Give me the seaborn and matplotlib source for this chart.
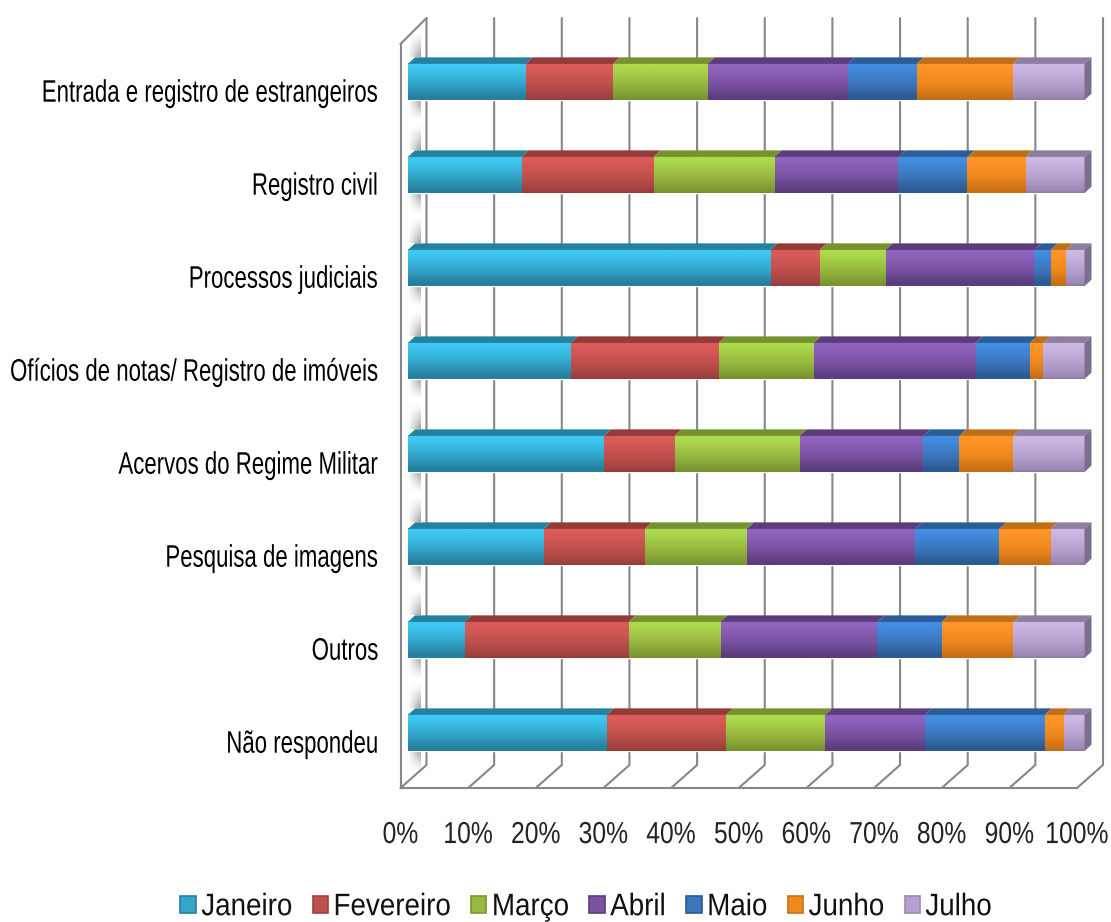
import numpy as np
import pandas as pd
import seaborn as sns
import matplotlib.pyplot as plt
from matplotlib.colors import LinearSegmentedColormap
from matplotlib.patheffects import AbstractPathEffect
from matplotlib.ticker import PercentFormatter
from matplotlib.transforms import Affine2D

categories = ["Entrada e registro de estrangeiros", "Registro civil", "Processos judiciais",
              "Ofícios de notas/ Registro de imóveis", "Acervos do Regime Militar",
              "Pesquisa de imagens", "Outros", "Não respondeu"]
months = ["Janeiro", "Fevereiro", "Março", "Abril", "Maio", "Junho", "Julho"]

janeiro = [17.4, 16.8, 53.6, 24.1, 29.0, 20.1, 8.4, 29.4]
fevereiro = [12.9, 19.5, 7.3, 21.8, 10.4, 14.9, 24.2, 17.6]
marco = [14.0, 17.9, 9.7, 14.1, 18.5, 15.1, 13.6, 14.7]
abril = [20.7, 18.3, 22.0, 23.9, 18.3, 24.9, 23.2, 14.7]
maio = [10.2, 10.2, 2.4, 8.0, 5.3, 12.4, 9.5, 17.7]
junho = [14.2, 8.6, 2.3, 2.0, 7.9, 7.6, 10.6, 2.8]
julho = [10.6, 8.7, 2.7, 6.1, 10.6, 5.0, 10.5, 3.1]
series = [janeiro, fevereiro, marco, abril, maio, junho, julho]

# top of bar, body, bottom of bar, dark facet
shades = [("#3FC8F2", "#33A6CA", "#257F9C", "#25829E"),
          ("#DA5C59", "#C0504D", "#A04240", "#943A39"),
          ("#ACD94E", "#98B93F", "#7C9732", "#76922F"),
          ("#9064BD", "#7A52A2", "#5C3D7E", "#5C3D7C"),
          ("#438DE2", "#3C76BB", "#2C5A92", "#2B5C97"),
          ("#FF9528", "#EF881D", "#C97116", "#BE6F17"),
          ("#CBB8E2", "#B7A2CF", "#9D89B5", "#8D7DA0")]

GREY = "#868686"


# the original text is squashed sideways, so make it taller around its middle
class Tall(AbstractPathEffect):
    def __init__(self, sy):
        super().__init__()
        self.sy = sy

    def draw_path(self, renderer, gc, tpath, affine, rgbFace=None):
        stretch = Affine2D().translate(0, -36).scale(1, self.sy).translate(0, 36)
        renderer.draw_path(gc, tpath, stretch + affine, rgbFace)


sns.set_theme(style="white")
plt.rcParams["font.family"] = ["Liberation Sans"]

fig = plt.figure(figsize=(11.11, 9.22), dpi=100, facecolor="white")
ax = fig.add_axes([400.5 / 1111, 1 - 788 / 922, 676.5 / 1111, 744 / 922])

# depth of the fake 3d box, in data units
wall_x = 26 / 6.765
wall_low = 23 / 93
wall_high = 26 / 93
bar_x = 7.5 / 6.765
bar_y = 8.5 / 93
cap_x = 7 / 6.765
cap_y = 6.5 / 93
bar_h = 0.39

cum = np.zeros(len(categories))
for name, vals in zip(months, series):
    df = pd.DataFrame({"cat": categories, "val": vals})
    sns.barplot(data=df, x="val", y="cat", order=categories, orient="y", ax=ax, left=cum,
                width=bar_h, color=shades[months.index(name)][1], label=name,
                saturation=1, errorbar=None, zorder=3, clip_on=False)
    cum = cum + np.array(vals)

for p in ax.patches:
    p.set_x(p.get_x() + bar_x)
    p.set_y(p.get_y() - bar_y)

# shadow on the side wall: strongest next to the bar and towards the back
shadow = np.zeros((24, 12, 4))
shadow[:, :, :3] = 0.45
shadow[:, :, 3] = np.outer(np.linspace(0, 1, 24) ** 1.2, np.linspace(0.05, 1, 12)) * 0.65

# gradient on every segment, then the top facet and the end cap
grad = np.linspace(0, 1, 64).reshape(-1, 1)
for row in range(len(categories)):
    y = row - bar_h / 2 - bar_y
    left = 0
    for m, vals in enumerate(series):
        right = left + vals[row]
        top, mid, low, dark = shades[m]
        cmap = LinearSegmentedColormap.from_list("g", [(0, top), (0.12, top), (0.55, mid), (0.93, low), (1, dark)])
        ax.imshow(grad, cmap=cmap, vmin=0, vmax=1, aspect="auto", origin="upper", zorder=4, clip_on=False,
                  extent=(left + bar_x, right + bar_x, y + bar_h, y))
        ax.fill([left + bar_x, right + bar_x, right + bar_x + cap_x, left + bar_x + cap_x],
                [y, y, y - cap_y, y - cap_y], color=dark, lw=0, zorder=5, clip_on=False)
        left = right
    ax.fill([left + bar_x, left + bar_x + cap_x, left + bar_x + cap_x, left + bar_x],
            [y, y - cap_y, y + bar_h - cap_y, y + bar_h], color="#7B6E8E", lw=0, zorder=5, clip_on=False)

    ax.imshow(shadow, aspect="auto", origin="upper", zorder=2, clip_on=False, interpolation="bilinear",
              extent=(bar_x, bar_x + 1.8, y - cap_y, y - cap_y - 0.27))
    ax.imshow(shadow, aspect="auto", origin="lower", zorder=2, clip_on=False, interpolation="bilinear",
              extent=(bar_x, bar_x + 1.8, y + bar_h + 0.22, y + bar_h))

# back wall gridlines and floor
ticks = np.arange(0, 101, 10)
for t in ticks:
    ax.plot([t, t + wall_x, t + wall_x], [7.5, 7.5 - wall_low, -0.5 - wall_high],
            color=GREY, lw=1.5, zorder=1, clip_on=False, solid_joinstyle="miter")
ax.plot([0, wall_x], [-0.5, -0.5 - wall_high], color=GREY, lw=1.5, zorder=1, clip_on=False)

ax.set_xlim(0, 100)
ax.set_ylim(7.5, -0.5)
ax.set_xticks(ticks)
ax.xaxis.set_major_formatter(PercentFormatter(100, decimals=0))
ax.set_yticks(np.arange(len(categories)))
ax.set_yticklabels(categories)
ax.set_yticks(np.arange(-0.5, 8), minor=True)
ax.set_xlabel("")
ax.set_ylabel("")
ax.patch.set_alpha(0)
sns.despine(ax=ax)
for side in ["left", "bottom"]:
    ax.spines[side].set_color(GREY)
    ax.spines[side].set_linewidth(1.5)
ax.tick_params(axis="x", length=8, width=1.5, color=GREY, pad=16.5, labelsize=17.8, labelcolor="#222222")
ax.tick_params(axis="y", which="major", length=0, pad=16, labelsize=16, labelcolor="#000000")
ax.tick_params(axis="y", which="minor", length=6.5, width=1.5, color=GREY)
for lab in ax.get_xticklabels():
    lab.set_path_effects([Tall(1.23)])
for lab in ax.get_yticklabels():
    lab.set_path_effects([Tall(1.4)])

handles, labels = ax.get_legend_handles_labels()
ax.get_legend().remove()
leg = fig.legend(handles, labels, loc="center", bbox_to_anchor=(586 / 1111, 1 - 907 / 922), ncol=7, frameon=False,
                 fontsize=20, handlelength=0.55, handleheight=0.55, handletextpad=0.2, columnspacing=0.74,
                 labelcolor="#111111")
for lab in leg.get_texts():
    lab.set_path_effects([Tall(1.12)])
for h, s in zip(leg.legend_handles, shades):
    h.set_edgecolor(s[2])
    h.set_linewidth(1.2)

fig.savefig("out.png", dpi=100)
